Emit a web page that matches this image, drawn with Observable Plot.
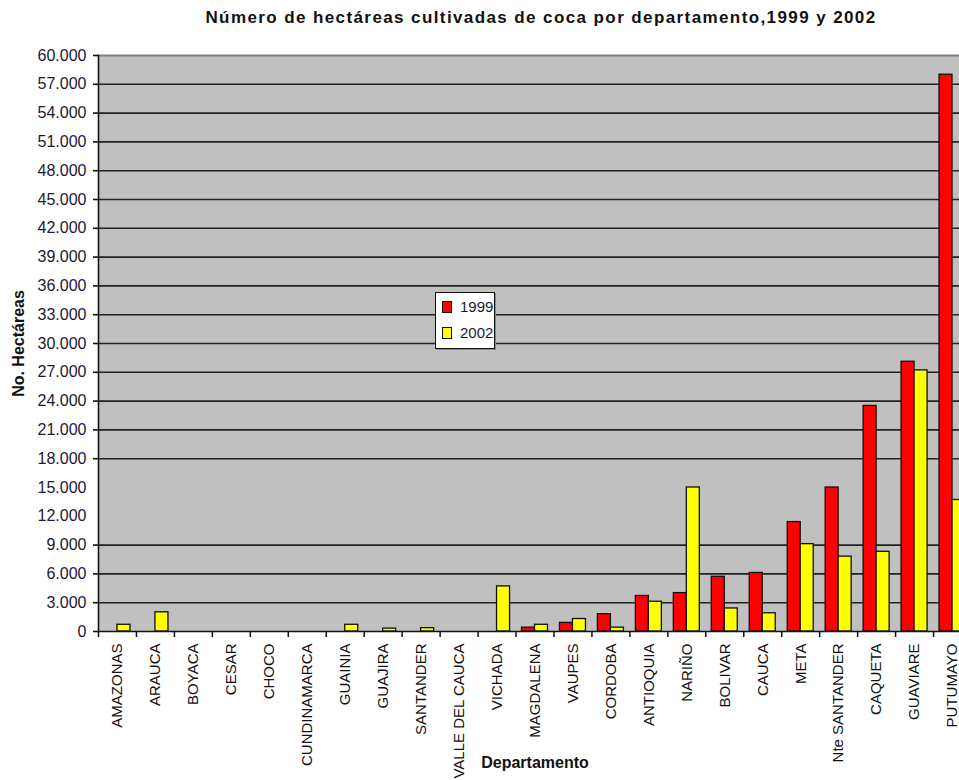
<!DOCTYPE html>
<html>
<head>
<meta charset="utf-8">
<script src="https://cdn.jsdelivr.net/npm/d3@7"></script>
<script src="https://cdn.jsdelivr.net/npm/@observablehq/plot@0.6"></script>
<style>
  html, body { margin: 0; padding: 0; background: white; overflow: hidden; }
  #wrap { position: relative; width: 959px; height: 780px; font-family: "Liberation Sans", Arial, sans-serif; }
  #title { height: 40px; line-height: 36px; text-align: center; font-weight: bold; font-size: 17px; color: #111; padding-left: 123px; box-sizing: border-box; letter-spacing: 1.4px; white-space: nowrap; }
  #legend { position: absolute; left: 435px; top: 292px; width: 58px; height: 55px; background: white; border: 1px solid #111; box-shadow: 1px 1px 0 #888; font-size: 15px; color: #1a1a33; }
  .li { position: absolute; left: 6px; display: flex; align-items: center; }
  .sw { width: 8px; height: 10px; border: 1px solid #111; margin-right: 8px; }
</style>
</head>
<body>
<div id="wrap">
  <div id="title">Número de hectáreas cultivadas de coca por departamento,1999 y 2002</div>
  <div id="chart"></div>
  <div id="legend"></div>
</div>
<script>
const depts = ["AMAZONAS","ARAUCA","BOYACA","CESAR","CHOCO","CUNDINAMARCA","GUAINIA","GUAJIRA","SANTANDER","VALLE DEL CAUCA","VICHADA","MAGDALENA","VAUPES","CORDOBA","ANTIOQUIA","NARIÑO","BOLIVAR","CAUCA","META","Nte SANTANDER","CAQUETA","GUAVIARE","PUTUMAYO"];
const v1999 = [0,0,0,0,0,0,0,0,0,0,0,400,900,1800,3700,4000,5700,6100,11400,15000,23500,28100,58000];
const v2002 = [700,2000,0,0,0,0,700,300,350,0,4700,700,1300,400,3100,15000,2400,1900,9100,7800,8300,27200,13700];
const years = ["1999","2002"];
const colors = ["#ff0000","#ffff00"];
const yTicks = d3.range(0, 60001, 3000);
const gridTicks = [3000,6000,9000,18000,21000,24000,27000,30000,33000,36000,39000,42000,45000,48000,51000,54000,57000];
const markTicks = [0, ...gridTicks, 60000];

const data1999 = depts.map((d, i) => ({dept: d, value: v1999[i]})).filter(d => d.value > 0);
const data2002 = depts.map((d, i) => ({dept: d, value: v2002[i]})).filter(d => d.value > 0);

const width = 959, height = 740;
const marginLeft = 98, marginRight = -12, marginTop = 15, marginBottom = 149;
const step = (width - marginLeft - marginRight) / depts.length;
const barW = 13;
const gap = (step - 2 * barW) / 2;

const fmt = d => d === 0 ? "0" : d3.format(",")(d).replace(/,/g, ".");

const chart = Plot.plot({
  width, height, marginLeft, marginRight, marginTop, marginBottom,
  style: {fontFamily: "'Liberation Sans', Arial, sans-serif", background: "white", color: "#1a1a33"},
  x: {domain: depts, padding: 0, round: false, axis: null},
  y: {domain: [0, 60000], axis: null},
  marks: [
    Plot.frame({fill: "#c0c0c0", stroke: null}),
    Plot.ruleY(gridTicks, {stroke: "#222", strokeWidth: 1.6}),
    Plot.ruleY([60000], {stroke: "#808080", strokeWidth: 2}),
    Plot.barY(data1999, {x: "dept", y: "value", fill: colors[0], stroke: "#111", strokeWidth: 1.3, insetLeft: gap, insetRight: gap + barW}),
    Plot.barY(data2002, {x: "dept", y: "value", fill: colors[1], stroke: "#111", strokeWidth: 1.3, insetLeft: gap + barW, insetRight: gap}),
    Plot.ruleY([0], {stroke: "#111", strokeWidth: 1.6}),
    Plot.frame({anchor: "left", stroke: "#111", strokeWidth: 1.6}),
    Plot.axisY({ticks: yTicks, tickSize: 0, tickPadding: 12, tickFormat: fmt, fontSize: 16, fill: "#1a1a33", label: null}),
    Plot.axisY({ticks: markTicks, tickSize: 5, tickFormat: () => "", stroke: "#111", strokeWidth: 1.6, label: null}),
    Plot.axisX({tickSize: 6, tickFormat: () => "", dx: -step / 2, stroke: "#111", strokeWidth: 1.5, label: null}),
    Plot.axisX({tickSize: 0, tickPadding: 12, tickRotate: -90, fontSize: 15, fill: "#111", label: null}),
    Plot.text(["Departamento"], {frameAnchor: "bottom", dy: 136, text: d => d, fontSize: 16, fontWeight: "bold", fill: "#111"}),
    Plot.text(["No. Hectáreas"], {frameAnchor: "left", textAnchor: "middle", dx: -80, rotate: -90, text: d => d, fontSize: 16, fontWeight: "bold", fill: "#111"})
  ]
});
document.getElementById("chart").appendChild(chart);

const legend = document.getElementById("legend");
years.forEach((y, i) => {
  const row = document.createElement("div");
  row.className = "li";
  row.style.top = (i === 0 ? 5 : 31) + "px";
  const sw = document.createElement("div");
  sw.className = "sw";
  sw.style.background = colors[i];
  const t = document.createElement("span");
  t.textContent = y;
  row.appendChild(sw);
  row.appendChild(t);
  legend.appendChild(row);
});
</script>
</body>
</html>
